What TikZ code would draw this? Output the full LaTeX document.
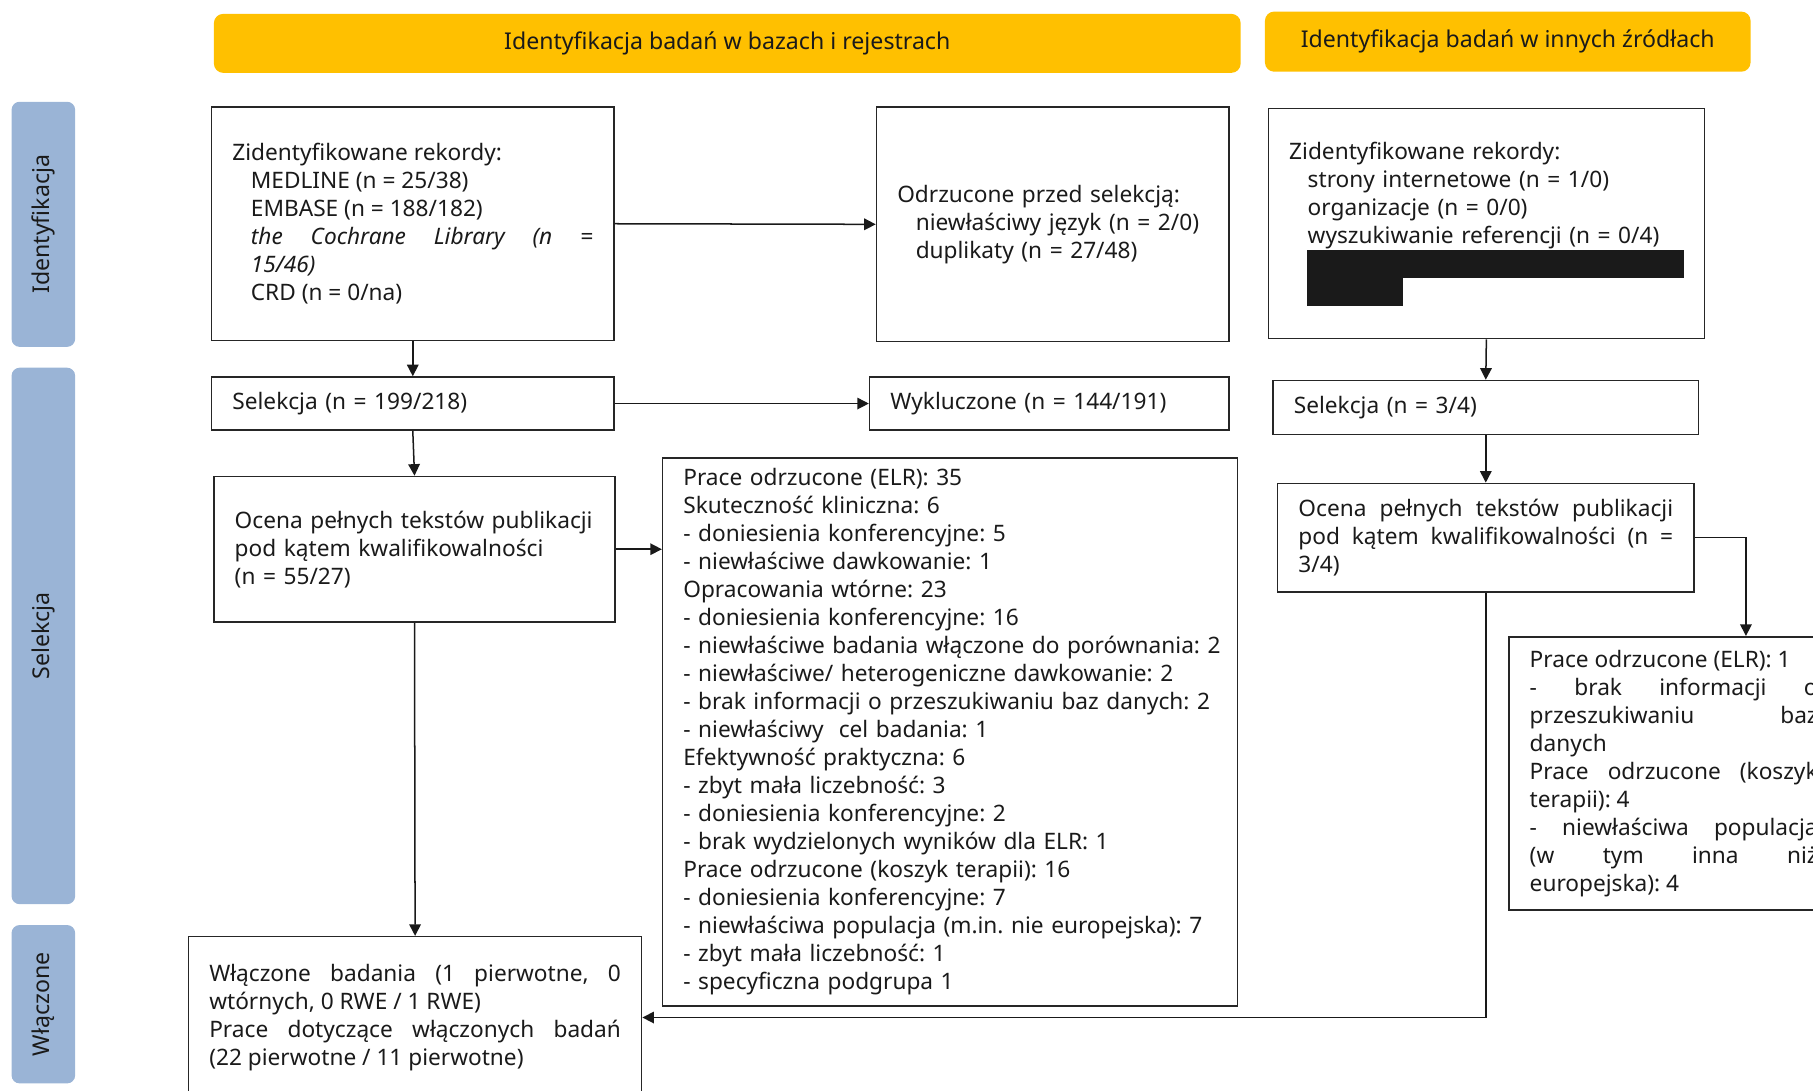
\documentclass[tikz,border=0pt]{standalone}
\usepackage{fontspec}
\setmainfont{Noto Sans}
\usetikzlibrary{arrows.meta,calc}
\definecolor{hdr}{HTML}{FFC000}
\definecolor{sidec}{HTML}{9AB4D6}
\definecolor{txt}{HTML}{1A1A1A}
\frenchspacing
\hyphenpenalty=10000
\exhyphenpenalty=10000
\begin{document}
\begin{tikzpicture}[x=0.5pt,y=-0.5pt,
  box/.style={draw=black!85, line width=0.6pt, inner sep=0pt, text=txt,
    font=\fontsize{9.8}{12.1}\selectfont, align=left},
  jbox/.style={box, align=justify},
  hdrbox/.style={fill=hdr, rounded corners=4pt, inner sep=0pt, text=txt,
    font=\fontsize{10}{12}\selectfont},
  sidebox/.style={fill=sidec, rounded corners=3.5pt, inner sep=0pt, text=txt,
    rotate=90, minimum height=27.5pt, font=\fontsize{10}{12}\selectfont},
  arr/.style={-{Triangle[length=5pt,width=5pt]}, line width=0.65pt, draw=black!90}]
\useasboundingbox (0,0) rectangle (1568,943);
\clip (0,0) rectangle (1568,943);

% headers
\node[hdrbox, minimum width=444pt, minimum height=25.5pt] (h1) at (629,37.5)
  {Identyfikacja badań w bazach i rejestrach};
\node[hdrbox, minimum width=210pt, minimum height=26pt] (h2) at (1304,36)
  {Identyfikacja badań w innych źródłach};

% side labels
\node[sidebox, minimum width=106pt] (s1) at (37.5,194) {Identyfikacja};
\node[sidebox, minimum width=232pt] (s2) at (37.5,550) {Selekcja};
\node[sidebox, minimum width=68.5pt] (s3) at (37.5,868.5) {Włączone};

% boxes
\node[jbox, minimum width=174pt, minimum height=101pt, text width=156pt] (A) at (357,193.5)
  {Zidentyfikowane rekordy:\\
   \hspace*{8pt}MEDLINE (n = 25/38)\\
   \hspace*{8pt}EMBASE (n = 188/182)\\
   \hspace*{8pt}\textit{the Cochrane Library (n =}\linebreak
   \hspace*{8pt}\textit{15/46)}\\
   \hspace*{8pt}CRD (n = 0/na)};

\node[box, minimum width=152.5pt, minimum height=101.5pt, text width=134.5pt] (B) at (910.5,194)
  {Odrzucone przed selekcją:\\
   \hspace*{8pt}niewłaściwy język (n = 2/0)\\
   \hspace*{8pt}duplikaty (n = 27/48)};

\node[box, minimum width=188.5pt, minimum height=99.5pt, text width=170.5pt] (C) at (1285.5,193.5)
  {Zidentyfikowane rekordy:\\
   \hspace*{8pt}strony internetowe (n = 1/0)\\
   \hspace*{8pt}organizacje (n = 0/0)\\
   \hspace*{8pt}wyszukiwanie referencji (n = 0/4)\\
   \hspace*{7.5pt}\rule[-2.9pt]{163pt}{12.1pt}\\
   \hspace*{7.5pt}\rule[-2.8pt]{41.5pt}{12pt}};

\node[box, minimum width=174pt, minimum height=23pt, text width=156pt] (D) at (357,349)
  {Selekcja (n = 199/218)};

\node[box, minimum width=155.5pt, minimum height=23pt, text width=137.5pt] (E) at (907.5,349)
  {Wykluczone (n = 144/191)};

\node[box, minimum width=184pt, minimum height=23.5pt, text width=166pt] (F) at (1285,352.5)
  {Selekcja (n = 3/4)};

\node[box, minimum width=173.5pt, minimum height=63pt, text width=155.5pt] (G) at (358.5,475)
  {\mbox{Ocena pełnych tekstów publikacji}\\
   pod kątem kwalifikowalności\\
   (n = 55/27)};

\node[box, minimum width=248.5pt, minimum height=237pt, text width=230.5pt] (H) at (821.5,633)
  {Prace odrzucone (ELR): 35\\
   Skuteczność kliniczna: 6\\
   - doniesienia konferencyjne: 5\\
   - niewłaściwe dawkowanie: 1\\
   Opracowania wtórne: 23\\
   - doniesienia konferencyjne: 16\\
   \mbox{- niewłaściwe badania włączone do porównania: 2}\\
   \mbox{- niewłaściwe/ heterogeniczne dawkowanie: 2}\\
   \mbox{- brak informacji o przeszukiwaniu baz danych: 2}\\
   - niewłaściwy\ \ cel badania: 1\\
   Efektywność praktyczna: 6\\
   - zbyt mała liczebność: 3\\
   - doniesienia konferencyjne: 2\\
   - brak wydzielonych wyników dla ELR: 1\\
   Prace odrzucone (koszyk terapii): 16\\
   - doniesienia konferencyjne: 7\\
   \mbox{- niewłaściwa populacja (m.in. nie europejska): 7}\\
   - zbyt mała liczebność: 1\\
   - specyficzna podgrupa 1};

\node[jbox, minimum width=180pt, minimum height=47pt, text width=162pt] (I) at (1285,465)
  {Ocena pełnych tekstów publikacji\linebreak
   pod kątem kwalifikowalności (n =\linebreak
   3/4)};

\node[jbox, minimum width=142.5pt, minimum height=118pt, text width=124.5pt] (J) at (1447.5,669)
  {Prace odrzucone (ELR): 1\\
   - brak informacji o\linebreak
   przeszukiwaniu baz\linebreak
   danych\\
   Prace odrzucone (koszyk\linebreak
   terapii): 4\\
   - niewłaściwa populacja\linebreak
   (w tym inna niż\linebreak
   europejska): 4};

\node[jbox, minimum width=196pt, minimum height=70pt, text width=178pt] (K) at (359,880)
  {Włączone badania (1 pierwotne, 0\linebreak
   wtórnych, 0 RWE / 1 RWE)\\
   Prace dotyczące włączonych badań\linebreak
   (22 pierwotne / 11 pierwotne)};

% connectors
\coordinate (jt) at (1510,550);
\draw[arr] (A.south) -- (D.north);
\draw[arr] (A.east) -- (B.west);
\draw[arr] (D.east) -- (E.west);
\draw[arr] (D.south) -- (G.north);
\draw[arr] (G.east) -- (G.east -| H.west);
\draw[arr] (G.south) -- (K.north);
\draw[arr] (C.south) -- (F.north);
\draw[arr] (F.south) -- (I.north);
\draw[arr] (I.east) -| (jt);
\draw[arr] (I.south) |- (K.east);
\end{tikzpicture}
\end{document}
